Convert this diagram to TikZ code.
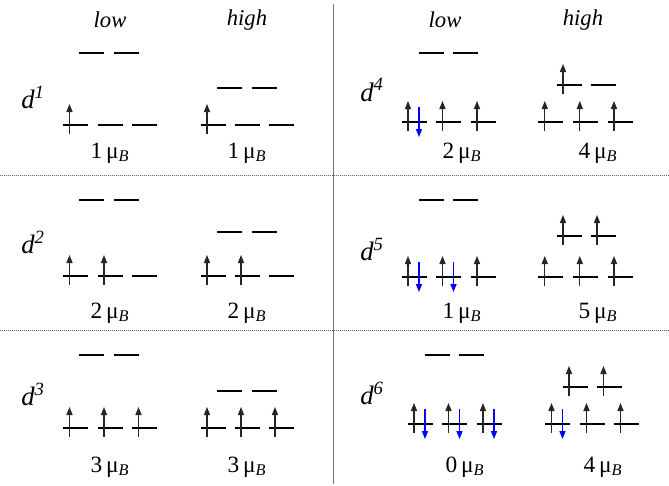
\documentclass[tikz,border=0pt]{standalone}
\usepackage{fontspec}
\setmainfont{Liberation Serif}
\usetikzlibrary{arrows.meta}
\tikzset{
  levelline/.style={line width=1.9pt, black},
  upspin/.style={line width=0.9pt, black!85, -{Triangle[length=6pt,width=4.6pt]}},
  downspin/.style={line width=0.9pt, blue, -{Triangle[length=6pt,width=4.6pt]}},
  lv/.pic={\draw[levelline] (-12.5,0) -- (12.5,0);},
  lvu/.pic={\draw[levelline] (-12.5,0) -- (12.5,0);
            \draw[upspin] (-6,9) -- (-6,-21);},
  lvud/.pic={\draw[levelline] (-12.5,0) -- (12.5,0);
             \draw[upspin] (-6,9) -- (-6,-21);
             \draw[downspin] (5,-15) -- (5,15);},
  hdr/.style={font=\fontsize{17}{20}\selectfont\itshape, inner sep=0pt},
  dlab/.style={font=\fontsize{20}{24}\selectfont, inner sep=0pt},
  mom/.style={font=\fontsize{17.5}{21}\selectfont, inner sep=0pt},
  sep/.style={line width=0.6pt, black!55},
  dots/.style={line width=0.7pt, black!60, dash pattern=on 0.6pt off 0.9pt}
}
\newcommand{\muB}[1]{#1\,μ\textsubscript{\textit{B}}}
\newcommand{\dl}[1]{\textit{d}\textsuperscript{\textit{#1}}}
\begin{document}
\begin{tikzpicture}[x=0.75pt,y=-0.75pt]
\useasboundingbox (0,0) rectangle (669,486);
% separators
\draw[sep] (333,4) -- (333,484);
\draw[dots] (0,175) -- (669,175);
\draw[dots] (0,330) -- (669,330);
% headers
\node[hdr] (hl1) at (110,20) {low};
\node[hdr] (hh1) at (247,20) {high};
\node[hdr] (hl2) at (445,20) {low};
\node[hdr] (hh2) at (583,20) {high};
% d labels
\node[dlab] (d1) at (33,97) {\dl{1}};
\node[dlab] (d2) at (33,242) {\dl{2}};
\node[dlab] (d3) at (33,394) {\dl{3}};
\node[dlab] (d4) at (372,90) {\dl{4}};
\node[dlab] (d5) at (372,250) {\dl{5}};
\node[dlab] (d6) at (372,393) {\dl{6}};
% moments
\node[mom] (m1l) at (110,153) {\muB{1}};
\node[mom] (m1h) at (247,153) {\muB{1}};
\node[mom] (m2l) at (110,313) {\muB{2}};
\node[mom] (m2h) at (247,313) {\muB{2}};
\node[mom] (m3l) at (110,467) {\muB{3}};
\node[mom] (m3h) at (247,467) {\muB{3}};
\node[mom] (m4l) at (462,153) {\muB{2}};
\node[mom] (m4h) at (598,153) {\muB{4}};
\node[mom] (m5l) at (462,313) {\muB{1}};
\node[mom] (m5h) at (598,313) {\muB{5}};
\node[mom] (m6l) at (465,467) {\muB{0}};
\node[mom] (m6h) at (603,467) {\muB{4}};
% ---- d1 ----
\pic at (91.5,53) {lv}; \pic at (126.5,53) {lv};
\pic at (75.5,125) {lvu}; \pic at (110,125) {lv}; \pic at (144.5,125) {lv};
\pic at (229.5,88) {lv}; \pic at (264,88) {lv};
\pic at (213,125) {lvu}; \pic at (247,125) {lv}; \pic at (281,125) {lv};
% ---- d2 ----
\pic at (91.5,200) {lv}; \pic at (126.5,200) {lv};
\pic at (75.5,276) {lvu}; \pic at (110,276) {lvu}; \pic at (144.5,276) {lv};
\pic at (229.5,232) {lv}; \pic at (264,232) {lv};
\pic at (213,276) {lvu}; \pic at (247,276) {lvu}; \pic at (281,276) {lv};
% ---- d3 ----
\pic at (91.5,355) {lv}; \pic at (126.5,355) {lv};
\pic at (75.5,428) {lvu}; \pic at (110,428) {lvu}; \pic at (144.5,428) {lvu};
\pic at (229.5,391) {lv}; \pic at (264,391) {lv};
\pic at (213,428) {lvu}; \pic at (247,428) {lvu}; \pic at (281,428) {lvu};
% ---- d4 ----
\pic at (431,53) {lv}; \pic at (465.5,53) {lv};
\pic at (414,122) {lvud}; \pic at (448.5,122) {lvu}; \pic at (483,122) {lvu};
\pic at (569,85) {lvu}; \pic at (603,85) {lv};
\pic at (550.8,122) {lvu}; \pic at (585.8,122) {lvu}; \pic at (620,122) {lvu};
% ---- d5 ----
\pic at (431.5,200) {lv}; \pic at (465.5,200) {lv};
\pic at (414,277) {lvud}; \pic at (448.5,277) {lvud}; \pic at (483,277) {lvu};
\pic at (569,236) {lvu}; \pic at (603,236) {lvu};
\pic at (550.8,277) {lvu}; \pic at (585.8,277) {lvu}; \pic at (620,277) {lvu};
% ---- d6 ----
\pic at (437.5,355) {lv}; \pic at (471.5,355) {lv};
\pic at (420,424) {lvud}; \pic at (454.5,424) {lvud}; \pic at (489,424) {lvud};
\pic at (575,387) {lvu}; \pic at (609.5,387) {lvu};
\pic at (557.5,424) {lvud}; \pic at (592.5,424) {lvu}; \pic at (626.5,424) {lvu};
\end{tikzpicture}
\end{document}
